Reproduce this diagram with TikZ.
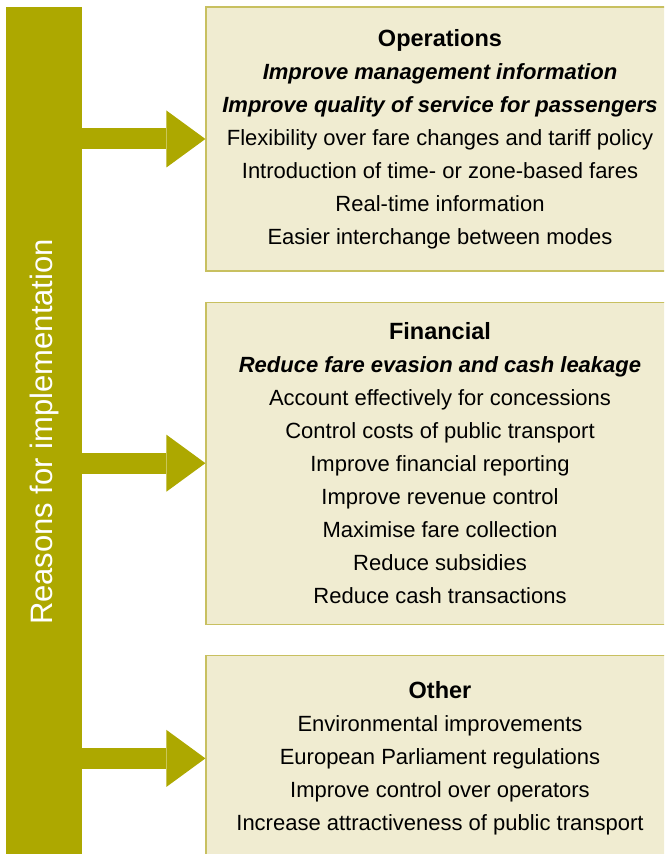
\documentclass[tikz,border=0pt]{standalone}
\usepackage{fontspec}
\setmainfont{Liberation Sans}
\usepackage{tikz}
\usetikzlibrary{positioning, arrows.meta}

\definecolor{olive}{HTML}{ADA800}
\definecolor{boxfill}{HTML}{F0ECD1}
\definecolor{boxline}{HTML}{C8C060}

\newcommand{\heading}[1]{{\fontsize{23.5}{33}\selectfont\textbf{#1}}}

\begin{document}
\begin{tikzpicture}[
    reason/.style={fill=olive, rectangle, rotate=90, minimum width=850pt, minimum height=76pt, text=white, font=\fontsize{31}{35}\selectfont, inner sep=0pt},
    box/.style={draw=boxline, fill=boxfill, line width=1.2pt, rectangle, minimum width=468pt, align=center, inner sep=0pt, font=\fontsize{22}{33}\selectfont},
    arrow/.style={-{Triangle[length=39pt, width=57pt, line width=0pt 0]}, olive, line width=21pt}
]

\clip (0,0) rectangle (664pt,854pt);

\node[reason] (bar) at (44pt,422pt) {Reasons for implementation};

\node[box, minimum height=264pt] (ops) at (440pt,715pt) {\heading{Operations}\\
    \textbf{\textit{Improve management information}}\\
    \textbf{\textit{Improve quality of service for passengers}}\\
    Flexibility over fare changes and tariff policy\\
    Introduction of time- or zone-based fares\\
    Real-time information\\
    Easier interchange between modes};
\node[box, minimum height=322pt] (fin) [below=30pt of ops] {\heading{Financial}\\
    \textbf{\textit{Reduce fare evasion and cash leakage}}\\
    Account effectively for concessions\\
    Control costs of public transport\\
    Improve financial reporting\\
    Improve revenue control\\
    Maximise fare collection\\
    Reduce subsidies\\
    Reduce cash transactions};
\node[box, minimum height=206pt] (oth) [below=30pt of fin] {\heading{Other}\\
    Environmental improvements\\
    European Parliament regulations\\
    Improve control over operators\\
    Increase attractiveness of public transport};

\draw[arrow] (bar.south |- ops.west) -- (ops.west);
\draw[arrow] (bar.south |- fin.west) -- (fin.west);
\draw[arrow] (bar.south |- oth.west) -- (oth.west);

\end{tikzpicture}
\end{document}
